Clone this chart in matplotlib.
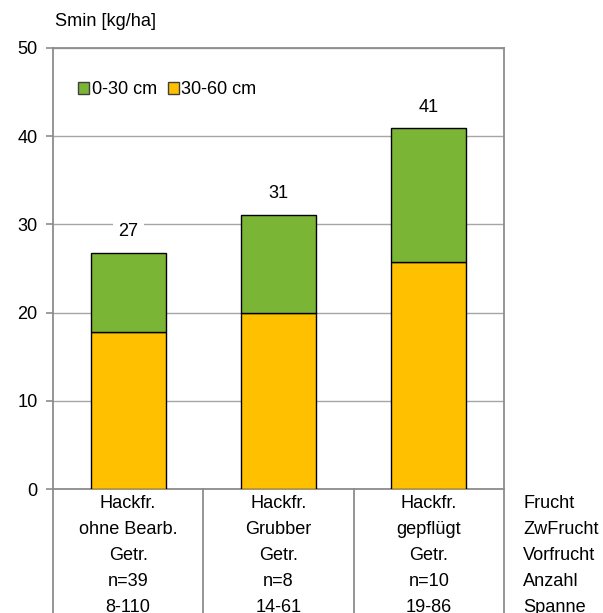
import matplotlib
matplotlib.use("Agg")
import matplotlib.pyplot as plt
from matplotlib.lines import Line2D

plt.rcParams['font.family'] = ['Liberation Sans', 'DejaVu Sans']

categories = ["ohne Bearb.", "Grubber", "gepflügt"]
frucht = ["Hackfr.", "Hackfr.", "Hackfr."]
zwfrucht = ["ohne Bearb.", "Grubber", "gepflügt"]
vorfrucht = ["Getr.", "Getr.", "Getr."]
anzahl = ["n=39", "n=8", "n=10"]
spanne = ["8-110", "14-61", "19-86"]
row_labels = ["Frucht", "ZwFrucht", "Vorfrucht", "Anzahl", "Spanne"]
v_30_60 = [17.8, 19.9, 25.7]
v_0_30 = [9.0, 11.2, 15.2]
totals_label = ["27", "31", "41"]

FS = 13.1
W, H = 603, 613
fig = plt.figure(figsize=(W / 100, H / 100), dpi=100)
x0, x1, y0, y1 = 53, 504, 48, 489
ax = fig.add_axes([x0 / W, 1 - y1 / H, (x1 - x0) / W, (y1 - y0) / H])

green = "#7AB536"
orange = "#FFC000"
grid_c = "#A6A6A6"
axis_c = "#8C8C8C"

xs = list(range(len(categories)))
ax.bar(xs, v_30_60, width=0.5, color=orange, edgecolor="black", linewidth=1.0,
       label="30-60 cm", zorder=3)
ax.bar(xs, v_0_30, width=0.5, bottom=v_30_60, color=green, edgecolor="black",
       linewidth=1.0, label="0-30 cm", zorder=3)

for i in xs:
    tot = v_30_60[i] + v_0_30[i]
    ax.text(i, tot + 2.4, totals_label[i], ha="center", va="center", fontsize=FS,
            zorder=4, bbox=dict(facecolor="white", edgecolor="none", pad=4))

ax.set_xlim(-0.5, 2.5)
ax.set_ylim(0, 50)
ax.set_yticks(range(0, 51, 10))
ax.set_yticklabels([str(v) for v in range(0, 51, 10)], fontsize=FS)
ax.set_xticks([])
ax.yaxis.grid(True, color=grid_c, linewidth=1.0, zorder=0)
ax.set_axisbelow(True)
ax.tick_params(axis="y", length=5, color=axis_c, width=1.2, pad=6)
for s in ["left", "right", "top", "bottom"]:
    ax.spines[s].set_color(axis_c)
    ax.spines[s].set_linewidth(1.3)

h, l = ax.get_legend_handles_labels()
leg = ax.legend(h[::-1], l[::-1], loc="center left",
                bbox_to_anchor=((78 - x0) / (x1 - x0), (y1 - 90) / (y1 - y0)),
                frameon=False, fontsize=FS, handlelength=0.6, handleheight=0.6,
                handletextpad=0.15, columnspacing=0.6, ncol=2, borderaxespad=0,
                borderpad=0)
for p in leg.get_patches():
    p.set_edgecolor("#404040")

# table lines below axis
for xv in [-0.5, 0.5, 1.5, 2.5]:
    ax.add_line(Line2D([xv, xv], [0, -20], color=axis_c, linewidth=1.3,
                       clip_on=False))

rows = [frucht, zwfrucht, vorfrucht, anzahl, spanne]
row_y = [501, 527, 553, 579, 605]
for r, (vals, yp) in enumerate(zip(rows, row_y)):
    yd = (y1 - yp) / (y1 - y0) * 50
    for i in xs:
        ax.text(i, yd, vals[i], ha="center", va="center_baseline", fontsize=FS,
                clip_on=False)
    ax.text(2.5 + 19 / 150, yd, row_labels[r], ha="left", va="center_baseline",
            fontsize=FS, clip_on=False)

fig.text(55 / W, 1 - 22 / H, "Smin [kg/ha]", ha="left", va="center", fontsize=FS)

fig.savefig("out.png", dpi=100)
